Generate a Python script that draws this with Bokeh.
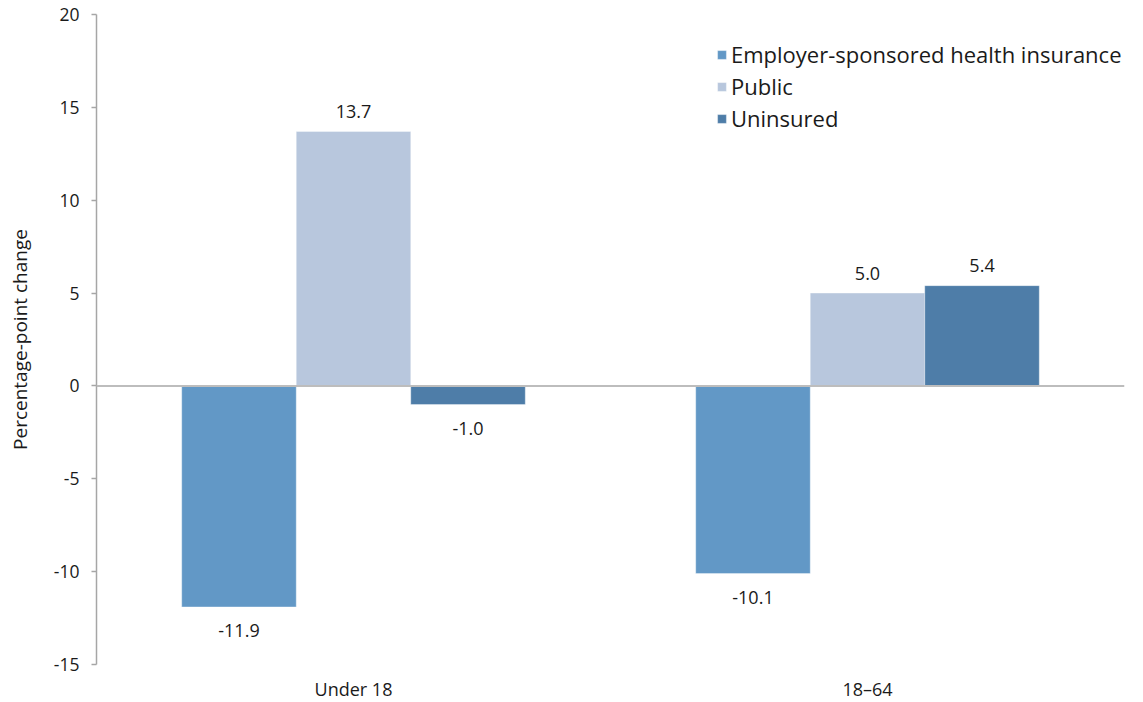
from bokeh.plotting import figure
from bokeh.models import (ColumnDataSource, FactorRange, Range1d, FixedTicker, Span,
                          Legend, LegendItem)
from bokeh.transform import dodge
from bokeh.core.properties import value
from bokeh.embed import file_html
from bokeh.resources import INLINE

# ---- data ----
groups = ["Under 18", "18\u201364"]
series = ["Employer-sponsored health insurance", "Public", "Uninsured"]
employer = [-11.9, -10.1]
public = [13.7, 5.0]
uninsured = [-1.0, 5.4]
y_ticks = [-15, -10, -5, 0, 5, 10, 15, 20]

colors = ["#6298C6", "#B8C7DD", "#4E7DA8"]
FONT = "Open Sans"
BAR_W = 0.2228

p = figure(x_range=FactorRange(factors=groups, range_padding=0),
           y_range=Range1d(-15, 20),
           frame_width=1028, frame_height=650,
           min_border_left=96, min_border_right=17, min_border_top=14, min_border_bottom=0,
           output_backend="svg", toolbar_location=None)
p.outline_line_color = None
p.grid.grid_line_color = None
p.background_fill_color = "white"

vals = [employer, public, uninsured]
offsets = [-BAR_W, 0.0, BAR_W]
renderers = []
for name, v, off, c in zip(series, vals, offsets, colors):
    labels = ["%.1f" % x for x in v]
    pos = [x if x >= 0 else float("nan") for x in v]
    neg = [x if x < 0 else float("nan") for x in v]
    src = ColumnDataSource(dict(g=groups, v=v, lab=labels, pos=pos, neg=neg))
    r = p.vbar(x=dodge("g", off, range=p.x_range), top="v", bottom=0, width=BAR_W,
               source=src, fill_color=c, line_color="white", line_alpha=0.35, line_width=1)
    renderers.append(r)
    p.text(x=dodge("g", off, range=p.x_range), y="pos", text="lab", source=src,
           text_align="center", text_baseline="alphabetic", y_offset=-20,
           text_font=value(FONT), text_font_size="18px", text_color="#1a1a1a")
    p.text(x=dodge("g", off, range=p.x_range), y="neg", text="lab", source=src,
           text_align="center", text_baseline="top", y_offset=17,
           text_font=value(FONT), text_font_size="18px", text_color="#1a1a1a")

p.add_layout(Span(location=0, dimension="width", line_color="#bdbdbd", line_width=2))

# y axis
ya = p.yaxis[0]
ya.ticker = FixedTicker(ticks=y_ticks)
ya.major_label_overrides = {t: str(t) for t in y_ticks}
ya.axis_label = "Percentage-point change"
ya.axis_label_text_font = FONT
ya.axis_label_text_font_style = "normal"
ya.axis_label_text_font_size = "19px"
ya.axis_label_text_color = "#1a1a1a"
ya.axis_label_standoff = 18
ya.axis_line_color = "#a6a6a6"
ya.axis_line_width = 1.5
ya.major_tick_line_color = "#a6a6a6"
ya.major_tick_line_width = 1.5
ya.major_tick_in = 0
ya.major_tick_out = 5
ya.minor_tick_line_color = None
ya.major_label_standoff = 12
ya.major_label_text_font = FONT
ya.major_label_text_font_size = "17.5px"
ya.major_label_text_color = "#1a1a1a"

# x axis
xa = p.xaxis[0]
xa.axis_line_color = None
xa.major_tick_line_color = None
xa.minor_tick_line_color = None
xa.major_label_standoff = 6
xa.major_label_text_font = FONT
xa.major_label_text_font_size = "18px"
xa.major_label_text_color = "#1a1a1a"

legend = Legend(items=[LegendItem(label=s, renderers=[r]) for s, r in zip(series, renderers)],
                location=(620, 531))
legend.border_line_color = None
legend.background_fill_alpha = 0
legend.padding = 0
legend.margin = 0
legend.spacing = 2
legend.glyph_width = 11
legend.glyph_height = 11
legend.label_standoff = 4
legend.label_text_font = FONT
legend.label_text_font_size = "22px"
legend.label_text_color = "#1a1a1a"
p.add_layout(legend)

open("out.html", "w").write(file_html(p, INLINE))
